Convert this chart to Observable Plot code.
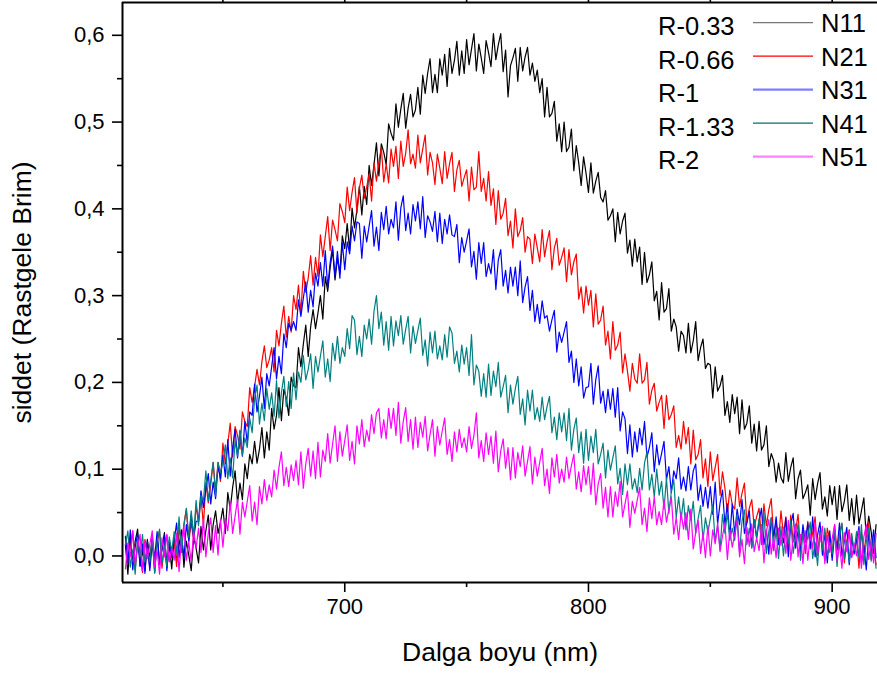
<!DOCTYPE html>
<html>
<head>
<meta charset="utf-8">
<script src="https://cdn.jsdelivr.net/npm/d3@7"></script>
<script src="https://cdn.jsdelivr.net/npm/@observablehq/plot@0.6"></script>
<style>
  html, body { margin: 0; padding: 0; background: #fff; }
  #wrap { position: relative; width: 877px; height: 675px; font-family: "Liberation Sans", Arial, sans-serif; }
  #legend { position: absolute; left: 0; top: 0; }
</style>
</head>
<body>
<div id="wrap"></div>
<script>
// ---- data ----
const wavelengths = d3.range(610, 919, 1); // nm, 610..918

const seriesNames = ["N11", "N21", "N31", "N41", "N51"];
const legendLabels = ["R-0.33", "R-0.66", "R-1", "R-1.33", "R-2"];
const seriesColors = ["#000000", "#ff0000", "#0000ff", "#008080", "#ff00ff"];
const legendColors = ["#777777", "#ff0000", "#7f7fff", "#007070", "#ff80ff"];
const legendWidths = [1.3, 1.3, 2.2, 1.3, 2.2];

const N11 = [
.013,-.021,.021,-.003,.017,.031,-.011,.007,-.017,.019,
-.003,.019,-.019,.023,-.007,.007,.027,-.013,.013,-.015,
.023,-.007,.012,.030,-.013,.017,.001,-.017,.022,.009,
-.008,.034,.007,.029,.047,.007,.036,.052,.026,.039,
.055,.026,.073,.054,.079,.098,.061,.084,.065,.106,
.089,.117,.106,.132,.107,.123,.148,.113,.143,.122,
.170,.146,.162,.194,.156,.192,.182,.162,.206,.196,
.194,.240,.218,.244,.266,.230,.264,.284,.262,.280,
.300,.273,.322,.305,.332,.353,.318,.343,.326,.369,
.354,.383,.352,.401,.378,.399,.426,.393,.426,.405,
.450,.427,.451,.476,.438,.475,.465,.451,.498,.487,
.479,.521,.494,.515,.533,.493,.516,.532,.506,.514,
.540,.509,.554,.533,.556,.573,.534,.555,.534,.573,
.554,.578,.541,.585,.556,.571,.593,.554,.582,.556,
.595,.566,.584,.602,.559,.590,.574,.556,.594,.580,
.564,.602,.572,.589,.602,.558,.583,.529,.565,.574,
.585,.547,.586,.559,.575,.586,.554,.568,.547,.560,
.534,.550,.506,.540,.506,.510,.524,.478,.498,.466,
.500,.466,.471,.492,.444,.473,.453,.427,.460,.441,
.419,.453,.418,.432,.442,.413,.408,.421,.387,.392,
.400,.362,.396,.371,.386,.395,.349,.364,.334,.365,
.339,.356,.313,.350,.315,.324,.339,.294,.305,.272,
.315,.281,.285,.308,.259,.273,.264,.236,.259,.254,
.234,.268,.234,.248,.270,.225,.240,.250,.216,.222,
.220,.182,.218,.190,.196,.208,.162,.178,.154,.186,
.164,.183,.141,.180,.146,.153,.173,.130,.152,.121,
.155,.122,.128,.150,.103,.118,.110,.085,.107,.090,
.084,.119,.086,.102,.113,.066,.089,.099,.066,.073,
.082,.047,.089,.065,.083,.096,.054,.068,.046,.081,
.059,.080,.042,.081,.051,.063,.082,.041,.066,.036,
.070,.037,.052,.067,.021,.046,.028,.003,.036
];
const N21 = [
.023,-.007,.011,.029,-.015,.015,-.001,-.019,.019,.005,
-.013,.025,-.004,.015,.029,-.014,.012,.024,-.005,.006,
.018,-.012,.033,.013,.037,.054,.016,.038,.018,.058,
.039,.068,.035,.085,.061,.082,.108,.075,.108,.086,
.130,.106,.129,.153,.114,.149,.139,.123,.166,.155,
.149,.194,.177,.195,.215,.197,.224,.242,.217,.226,
.240,.212,.260,.242,.268,.288,.252,.276,.258,.300,
.284,.312,.280,.328,.304,.320,.346,.312,.344,.322,
.370,.345,.368,.391,.352,.387,.376,.363,.406,.397,
.384,.425,.398,.419,.436,.395,.424,.439,.412,.425,
.440,.409,.453,.432,.454,.471,.431,.452,.430,.469,
.449,.472,.435,.478,.449,.464,.491,.452,.463,.447,
.485,.453,.469,.485,.439,.465,.453,.428,.463,.447,
.429,.466,.435,.452,.465,.420,.445,.456,.426,.436,
.445,.409,.448,.422,.425,.466,.420,.435,.409,.443,
.404,.423,.382,.421,.388,.395,.412,.369,.386,.355,
.400,.368,.375,.390,.350,.368,.365,.337,.371,.355,
.339,.376,.345,.362,.375,.330,.355,.366,.335,.344,
.355,.316,.353,.324,.339,.348,.296,.310,.280,.311,
.289,.306,.264,.302,.267,.272,.288,.243,.259,.227,
.270,.237,.243,.258,.211,.233,.213,.190,.222,.204,
.199,.233,.199,.203,.223,.175,.191,.199,.167,.177,
.185,.147,.185,.157,.163,.173,.125,.139,.123,.155,
.129,.148,.106,.145,.111,.117,.134,.090,.112,.080,
.120,.087,.102,.117,.070,.097,.078,.049,.076,.059,
.054,.090,.057,.072,.084,.038,.055,.065,.033,.045,
.055,.020,.060,.035,.053,.066,.022,.039,.018,.052,
.024,.045,.006,.047,.016,.029,.048,.008,.032,.003,
.040,.010,.027,.045,.001,.029,.013,-.005,.032,.018,
-.001,.036,.006,.024,.037,-.008,.018,.030,-.001,.009,
.020,-.014,.028,.004,.024,.038,-.004,.014,-.010
];
const N31 = [
.022,-.008,.030,-.016,.010,.026,-.012,.014,-.020,.017,
-.017,.014,-.002,.028,-.010,.008,.024,-.017,.018,-.002,
.018,.038,-.002,.022,-.002,.036,.018,.048,.020,.040,
.040,.075,.056,.076,.095,.060,.085,.066,.104,.089,
.116,.091,.134,.092,.125,.146,.113,.144,.115,.155,
.130,.166,.162,.198,.166,.184,.206,.170,.210,.196,
.218,.240,.204,.230,.210,.256,.240,.268,.260,.270,
.260,.295,.276,.297,.316,.281,.306,.287,.326,.311,
.338,.311,.352,.309,.338,.357,.322,.351,.320,.361,
.330,.362,.348,.380,.363,.385,.383,.343,.380,.362,
.380,.398,.357,.379,.352,.396,.376,.403,.371,.388,
.378,.408,.364,.401,.415,.375,.395,.371,.405,.386,
.408,.377,.414,.367,.392,.385,.374,.397,.362,.395,
.360,.388,.371,.393,.370,.368,.382,.338,.367,.350,
.363,.377,.333,.351,.319,.361,.337,.361,.322,.337,
.325,.353,.307,.341,.353,.311,.329,.303,.333,.311,
.333,.300,.340,.292,.310,.322,.283,.306,.270,.290,
.268,.294,.274,.277,.259,.272,.283,.235,.258,.246,
.258,.270,.223,.236,.200,.227,.196,.218,.182,.194,
.195,.222,.175,.203,.219,.176,.190,.165,.192,.169,
.193,.160,.194,.144,.166,.158,.118,.151,.114,.143,
.120,.147,.128,.155,.114,.125,.142,.097,.128,.105,
.118,.132,.088,.103,.073,.098,.089,.113,.077,.091,
.075,.103,.076,.098,.106,.064,.082,.057,.079,.055,
.080,.048,.085,.037,.061,.076,.036,.060,.022,.060,
.025,.054,.036,.065,.026,.038,.052,.010,.042,.020,
.040,.055,.013,.030,.002,.044,.021,.045,.013,.029,
.015,.044,-.001,.036,.049,.009,.029,.004,.036,.016,
.038,.008,.045,-.001,.024,.039,.001,.027,-.008,.029,
-.005,.025,.008,.038,.000,.017,.033,-.010,.022,.002,
.018,.034,-.008,.012,-.016,.026,.004,.030,-.002
];
const N41 = [
.013,.029,-.013,.007,-.021,.021,-.001,.025,-.007,.009,
-.007,.023,-.020,.017,.031,-.009,.012,-.012,.022,.005,
.028,.003,.045,.004,.034,.055,.021,.052,.022,.064,
.035,.070,.063,.098,.064,.087,.108,.069,.108,.096,
.108,.128,.089,.113,.090,.133,.115,.145,.116,.136,
.125,.159,.142,.181,.197,.152,.176,.156,.193,.169,
.188,.161,.202,.159,.188,.207,.172,.201,.170,.211,
.180,.212,.200,.231,.203,.215,.233,.193,.230,.212,
.230,.248,.206,.227,.201,.245,.225,.253,.222,.240,
.230,.262,.239,.277,.272,.232,.253,.230,.266,.250,
.273,.244,.282,.300,.262,.281,.243,.270,.237,.276,
.242,.271,.254,.277,.244,.261,.276,.234,.265,.245,
.260,.274,.231,.249,.219,.258,.234,.259,.227,.242,
.226,.255,.229,.264,.257,.222,.236,.212,.243,.221,
.240,.208,.255,.197,.220,.213,.184,.210,.183,.221,
.185,.213,.195,.223,.183,.195,.208,.165,.197,.175,
.193,.207,.163,.181,.151,.191,.167,.191,.157,.171,
.155,.183,.157,.172,.184,.142,.160,.134,.165,.143,
.165,.133,.170,.122,.146,.159,.119,.143,.107,.146,
.110,.138,.119,.146,.106,.117,.130,.090,.122,.099,
.113,.127,.083,.101,.071,.106,.082,.106,.077,.089,
.073,.101,.076,.107,.120,.076,.094,.068,.100,.070,
.086,.054,.090,.049,.074,.088,.044,.068,.042,.066,
.030,.058,.041,.063,.026,.043,.058,.018,.044,.027,
.043,.058,.016,.035,.007,.048,.026,.050,.018,.032,
.018,.048,.004,.040,.053,.013,.032,.009,.042,.022,
.043,.013,.050,.003,.028,.044,.006,.030,-.003,.034,
.000,.030,.014,.041,.003,.022,.037,-.005,.026,.006,
.023,.039,-.003,.016,-.011,.029,.007,.032,.000,.016,
.002,.032,-.012,.024,.038,-.003,.017,-.007,.026,.006,
.028,-.002,.036,-.010,.016,.032,-.006,.020,-.014
];
const N51 = [
-.015,.015,-.001,.029,-.009,.009,.025,-.017,.017,-.003,
.013,.029,-.013,.007,-.021,.021,-.001,.025,-.007,.009,
-.005,.026,-.018,.019,.034,-.005,.016,-.007,.028,.009,
.032,.004,.043,-.001,.026,.044,.004,.035,.001,.042,
.010,.043,.029,.062,.026,.046,.065,.025,.062,.045,
.063,.081,.040,.062,.036,.080,.060,.088,.064,.082,
.068,.099,.077,.102,.120,.081,.102,.080,.105,.087,
.110,.082,.120,.078,.106,.124,.092,.121,.089,.131,
.091,.122,.109,.141,.107,.129,.150,.109,.143,.115,
.133,.151,.110,.132,.106,.150,.129,.157,.126,.145,
.132,.163,.141,.165,.170,.136,.157,.135,.170,.147,
.170,.139,.177,.130,.155,.171,.132,.157,.123,.160,
.125,.154,.137,.161,.121,.140,.157,.115,.149,.128,
.144,.159,.117,.134,.109,.143,.120,.146,.125,.136,
.120,.149,.124,.139,.165,.113,.133,.109,.142,.117,
.138,.107,.144,.097,.121,.135,.101,.125,.088,.125,
.090,.119,.103,.127,.092,.109,.126,.083,.114,.092,
.108,.124,.081,.100,.072,.113,.091,.117,.084,.100,
.085,.114,.089,.104,.117,.077,.097,.074,.104,.082,
.103,.071,.107,.059,.083,.095,.055,.079,.045,.080,
.045,.074,.057,.086,.045,.060,.075,.033,.063,.049,
.064,.079,.036,.055,.028,.067,.043,.068,.036,.051,
.036,.065,.039,.054,.068,.025,.044,.019,.050,.031,
.050,.019,.054,.008,.027,.041,.003,.027,-.002,.035,
.000,.030,.014,.038,.005,.023,.038,-.004,.030,.010,
.025,.041,-.001,.019,-.009,.033,.011,.037,.005,.021,
.006,.036,-.008,.028,.042,.002,.022,-.002,.032,.012,
.033,.003,.041,-.005,.021,.037,-.001,.025,-.009,.029,
-.005,.025,.009,.039,.001,.018,.034,-.009,.024,.004,
.020,.036,-.006,.014,-.014,.027,.005,.030,-.002,.014,
.000,.030,-.014,.022,.036,-.004,.016,-.008,.026
];

const xDomain = [608.8, 918.6];
const yDomain = [-0.0306, 0.6378];
const xTicks = [700, 800, 900];
const xMinorTicks = [650, 750, 850];
const yTicks = [0, 0.1, 0.2, 0.3, 0.4, 0.5, 0.6];
const yMinorTicks = [0.05, 0.15, 0.25, 0.35, 0.45, 0.55];
const xTitle = "Dalga boyu (nm)";
const yTitle = "siddet (Rastgele Brim)";

// ---- tidy table ----
const allSeries = [N11, N21, N31, N41, N51];
const rows = [];
allSeries.forEach((vals, s) => {
  const n = Math.min(vals.length, wavelengths.length);
  for (let i = 0; i < n; i++) rows.push({ nm: wavelengths[i], value: vals[i], series: seriesNames[s] });
});

const fmt = d => d3.format(".1f")(d).replace(".", ",");

const chart = Plot.plot({
  width: 877,
  height: 675,
  marginLeft: 122,
  marginRight: 0,
  marginTop: 2,
  marginBottom: 93,
  style: { fontFamily: "'Liberation Sans', Arial, sans-serif", fontSize: "22px", color: "#000", background: "#fff", overflow: "visible" },
  x: { domain: xDomain },
  y: { domain: yDomain },
  color: { domain: seriesNames, range: seriesColors },
  marks: [
    Plot.line(rows, { x: "nm", y: "value", z: "series", stroke: "series", strokeWidth: 1.2, clip: true }),
    // frame lines (left, bottom, top)
    Plot.ruleX([xDomain[0]], { stroke: "#000", strokeWidth: 2 }),
    Plot.ruleY([yDomain[0]], { stroke: "#000", strokeWidth: 2 }),
    Plot.ruleY([yDomain[1]], { stroke: "#000", strokeWidth: 2 }),
    // x axis
    Plot.axisX({ ticks: xTicks, tickSize: 10, tickPadding: 6, tickFormat: d => String(d), fontSize: 22, strokeWidth: 1.6, label: null }),
    Plot.axisX({ ticks: xMinorTicks, tickSize: 5, tickFormat: () => "", strokeWidth: 1.6, label: null }),
    Plot.axisX({ anchor: "top", ticks: xTicks.concat(xMinorTicks), tickSize: 5, tickFormat: () => "", strokeWidth: 1.6, label: null }),
    // y axis
    Plot.axisY({ ticks: yTicks, tickSize: 10, tickPadding: 8, tickFormat: fmt, fontSize: 22, strokeWidth: 1.6, label: null }),
    Plot.axisY({ ticks: yMinorTicks, tickSize: 5, tickFormat: () => "", strokeWidth: 1.6, label: null }),
    // axis titles
    Plot.text([xTitle], { frameAnchor: "bottom", dy: 78, fontSize: 26.5, fill: "#000" }),
    Plot.text([yTitle], { frameAnchor: "left", textAnchor: "middle", dx: -100, rotate: -90, fontSize: 26.5, fill: "#000" })
  ]
});

const wrap = document.getElementById("wrap");
wrap.appendChild(chart);

// ---- legend overlay ----
const lg = d3.select(wrap).append("svg")
  .attr("id", "legend")
  .attr("width", 877).attr("height", 200)
  .style("font-family", "'Liberation Sans', Arial, sans-serif");
const rowGap = 33.5;
seriesNames.forEach((name, i) => {
  const g = lg.append("g").attr("transform", `translate(0, ${i * rowGap})`);
  g.append("text").attr("x", 658).attr("y", 35).attr("font-size", 25.5).attr("fill", "#000").text(legendLabels[i]);
  g.append("line").attr("x1", 753).attr("x2", 813).attr("y1", 22.7).attr("y2", 22.7)
    .attr("stroke", legendColors[i]).attr("stroke-width", legendWidths[i]);
  g.append("text").attr("x", 821).attr("y", 32).attr("font-size", 25.5).attr("fill", "#000").text(name);
});
</script>
</body>
</html>
